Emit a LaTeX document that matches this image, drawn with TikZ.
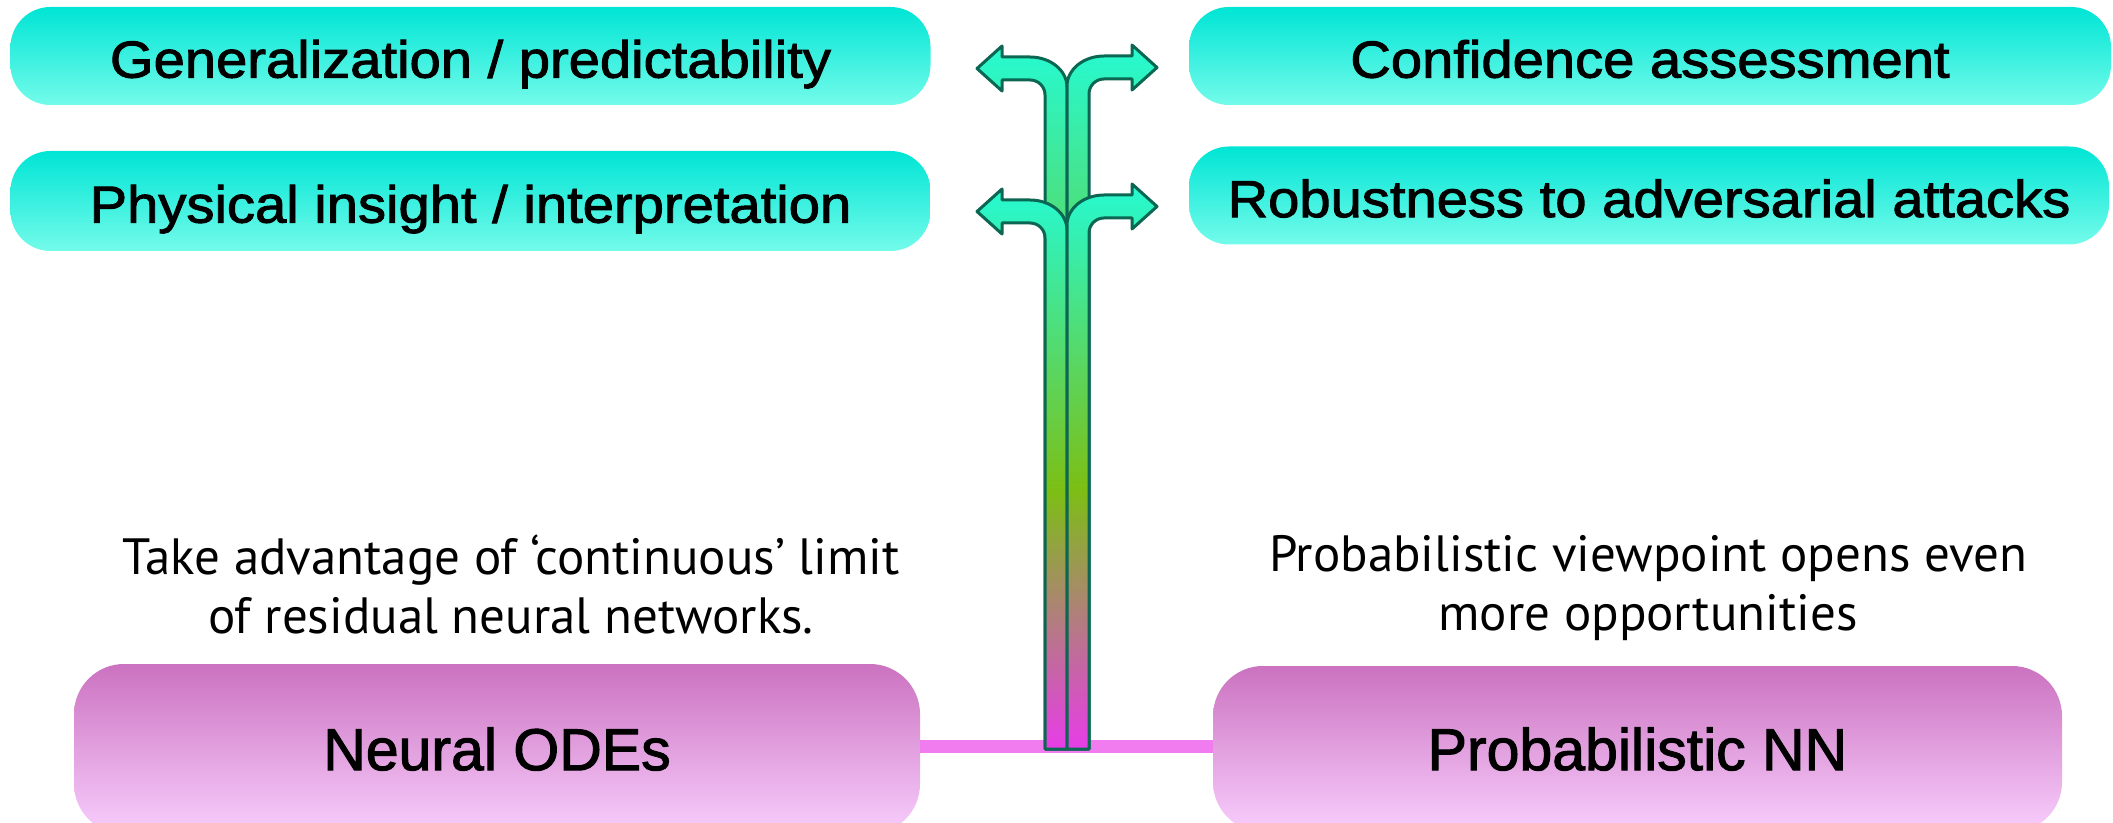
\documentclass[tikz,border=0pt]{standalone}
\usepackage{fontspec}
\newfontfamily\boxfontw[FakeStretch=1.08,FakeBold=1.8]{Liberation Sans}
\newfontfamily\boxfontn[FakeBold=1.8]{Liberation Sans}
\newfontfamily\notefont{PT Sans}
\definecolor{cyTop}{HTML}{00E5D5}
\definecolor{cyBot}{HTML}{74FBEA}
\definecolor{pkTop}{HTML}{CB72C0}
\definecolor{pkBot}{HTML}{F8CEFD}
\definecolor{arrCyan}{HTML}{26FAD2}
\definecolor{arrGreen}{HTML}{7CBE14}
\definecolor{arrMag}{HTML}{E83CE8}
\definecolor{arrLine}{HTML}{0B6652}
\definecolor{linkPink}{HTML}{F07CF0}
\pgfdeclareverticalshading{arrowgrad}{100bp}{color(0bp)=(arrMag); color(25bp)=(arrMag); color(48bp)=(arrGreen); color(75bp)=(arrCyan); color(100bp)=(arrCyan)}
\newcommand{\ForkLeft}[1]{%
  \shadedraw[forkarrow] (1067,749) -- (1067,#1+30) .. controls (1067,#1+13.4) and (1050.4,#1) .. (1030,#1) -- (1002,#1) -- (1002,#1-11) -- (977,#1+11.5) -- (1002,#1+34) -- (1002,#1+23) -- (1030,#1+23) .. controls (1038.3,#1+23) and (1045,#1+29.6) .. (1045,#1+38) -- (1045,749) -- cycle;}
\newcommand{\ForkRight}[1]{%
  \shadedraw[forkarrow] (1067,749) -- (1067,#1+30) .. controls (1067,#1+13.4) and (1083.6,#1) .. (1104,#1) -- (1132,#1) -- (1132,#1-11) -- (1157,#1+11.5) -- (1132,#1+34) -- (1132,#1+23) -- (1104,#1+23) .. controls (1095.7,#1+23) and (1089,#1+29.6) .. (1089,#1+38) -- (1089,749) -- cycle;}
\begin{document}
\begin{tikzpicture}[x=0.5pt,y=-0.5pt,
  cybox/.style={rounded corners=20pt, top color=cyTop, bottom color=cyBot, draw=none, minimum width=460pt, minimum height=49pt, font=\boxfontw\fontsize{26}{30}\selectfont, inner sep=0pt, text height=21.6pt, text depth=0pt},
  pkbox/.style={rounded corners=25pt, top color=pkTop, bottom color=pkBot, draw=none, minimum width=424pt, minimum height=85pt, font=\boxfontn\fontsize{29.5}{33}\selectfont, inner sep=0pt, text height=21.1pt, text depth=0pt},
  note/.style={align=center, font=\notefont\fontsize{25.5}{29.5}\selectfont, inner sep=0pt},
  forkarrow/.style={shading=arrowgrad, draw=arrLine, line width=1.5pt, line join=round},
  link/.style={draw=linkPink, line width=6.5pt}]
\useasboundingbox (0,0) rectangle (2113,823);
\clip (0,0) rectangle (2113,823);
% top boxes
\node[cybox] (gen) at (470.5,56) {Generalization / predictability};
\node[cybox, minimum height=50pt] (phys) at (470.5,201) {Physical insight / interpretation};
\node[cybox, minimum width=461pt] (conf) at (1650,56) {Confidence assessment};
\node[cybox] (rob) at (1649,195.5) {Robustness to adversarial attacks};
% bottom boxes
\node[pkbox, minimum width=423pt] (ode) at (497,749) {Neural ODEs};
\node[pkbox, minimum width=424.5pt, minimum height=83pt] (pnn) at (1637.5,749) {Probabilistic NN};
% notes
\node[note] (odenote) at (511,584) {Take advantage of ‘continuous’ limit\\of residual neural networks.};
\node[note] (pnnnote) at (1648,588) {Probabilistic viewpoint opens even\\more opportunities};
% link
\draw[link] ([yshift=1.5pt]ode.east) -- ([yshift=1.5pt]pnn.west);
% fork arrows
\ForkLeft{57}
\ForkRight{56}
\ForkLeft{200}
\ForkRight{195}
\end{tikzpicture}
\end{document}
